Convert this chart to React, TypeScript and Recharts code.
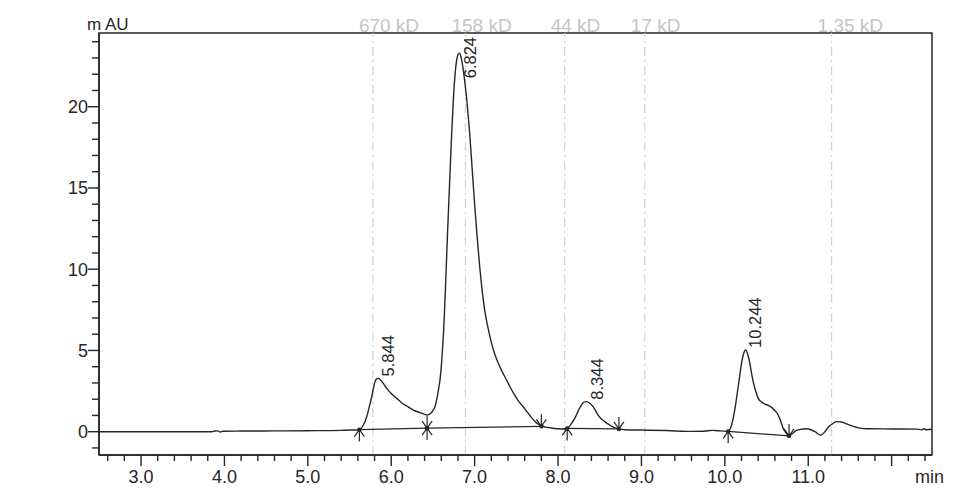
import React from 'react';
import { ComposedChart, Line, Scatter, XAxis, YAxis, ReferenceLine, ReferenceArea } from 'recharts';

// chromatogram trace (min / mAU)
const retentionTime = [
  2.5, 3.0, 3.5, 3.85, 3.88, 3.92, 3.95, 3.98, 4.2, 4.6, 5.0, 5.4, 5.5, 5.58,
  5.618, 5.66, 5.706, 5.74, 5.766, 5.79, 5.806, 5.825, 5.845, 5.87, 5.9, 5.946, 6.0, 6.066, 6.12, 6.186, 6.26, 6.345, 6.4, 6.43,
  6.47, 6.5, 6.525, 6.55, 6.57, 6.585, 6.6, 6.615, 6.63, 6.65, 6.675, 6.7, 6.725, 6.75, 6.775, 6.8, 6.817, 6.835, 6.86, 6.885,
  6.91, 6.94, 6.97, 7.0, 7.03, 7.06, 7.09, 7.12, 7.16, 7.2, 7.24, 7.285, 7.33, 7.38, 7.425, 7.48, 7.53, 7.585, 7.64, 7.68,
  7.725, 7.76, 7.8, 7.85, 7.9, 7.95, 8.05,
  8.11, 8.15, 8.2, 8.24, 8.28, 8.31, 8.344, 8.38, 8.42, 8.46, 8.5, 8.56, 8.62, 8.68, 8.73, 8.8,
  9.0, 9.3, 9.6, 9.75, 9.85, 9.95,
  10.04, 10.08, 10.1, 10.13, 10.16, 10.18, 10.2, 10.225, 10.25, 10.275, 10.3, 10.32, 10.34, 10.37, 10.4, 10.44, 10.48, 10.52,
  10.56, 10.6, 10.64, 10.67, 10.7, 10.74, 10.77, 10.8, 10.86, 10.92, 10.98, 11.03, 11.08, 11.15, 11.2, 11.24, 11.3, 11.34,
  11.4, 11.46, 11.54, 11.62, 11.7, 12.0, 12.3, 12.36, 12.38, 12.42, 12.48,
];
const absorbance = [
  0, 0, 0, 0, 0.04, 0.05, -0.02, 0.03, 0.04, 0.05, 0.06, 0.08, 0.1, 0.1,
  0.13, 0.35, 0.92, 1.6, 2.15, 2.75, 3.08, 3.25, 3.28, 3.2, 3.0, 2.67, 2.35, 2.05, 1.8, 1.58, 1.35, 1.17, 1.07, 1.03,
  1.12, 1.3, 1.55, 2.1, 2.7, 3.2, 4.0, 5.1, 6.4, 8.8, 12.2, 15.3, 18.4, 20.9, 22.5, 23.2, 23.3, 23.1, 22.4, 21.4,
  20.2, 18.4, 16.2, 14.0, 12.0, 10.2, 8.7, 7.5, 6.4, 5.5, 4.8, 4.2, 3.7, 3.2, 2.75, 2.25, 1.85, 1.52, 1.15, 0.88,
  0.62, 0.48, 0.38, 0.28, 0.25, 0.2, 0.17,
  0.2, 0.42, 0.82, 1.25, 1.64, 1.82, 1.85, 1.75, 1.54, 1.2, 0.89, 0.62, 0.41, 0.25, 0.17, 0.12,
  0.1, 0.07, 0.02, 0.03, 0.08, 0.05,
  0.02, 0.4, 0.82, 1.7, 2.77, 3.5, 4.2, 4.8, 5.03, 4.75, 4.2, 3.6, 3.08, 2.5, 2.05, 1.82, 1.7, 1.62,
  1.5, 1.3, 1.03, 0.65, 0.2, -0.12, -0.26, -0.15, 0.08, 0.15, 0.18, 0.12, 0.0, -0.22, 0.0, 0.27, 0.52, 0.62,
  0.6, 0.48, 0.33, 0.22, 0.18, 0.17, 0.16, 0.12, 0.18, 0.12, 0.15,
];

const peakTimes = [5.844, 6.824, 8.344, 10.244];
const peakHeights = [3.28, 23.3, 1.85, 5.03];

// integration start / end points
const startTimes = [5.618, 6.43, 8.11, 10.04];
const startLevels = [0.13, 0.22, 0.2, 0.02];
const endTimes = [6.43, 7.8, 8.73, 10.77];
const endLevels = [0.22, 0.33, 0.17, -0.26];

// calibration standards
const standardTimes = [5.78, 6.89, 8.08, 9.04, 11.28];
const standardLabels = ['670 kD', '158 kD', '44 kD', '17 kD', '1.35 kD'];

const xMajor = [3, 4, 5, 6, 7, 8, 9, 10, 11, 12];
const xMajorLabels = ['3.0', '4.0', '5.0', '6.0', '7.0', '8.0', '9.0', '10.0', '11.0', ''];
const yMajor = [0, 5, 10, 15, 20];
const yMajorLabels = ['0', '5', '10', '15', '20'];

const X_MIN = 2.496;
const X_MAX = 12.484;
const Y_MIN = -1.434;
const Y_MAX = 24.536;
const PLOT_TOP = 33;

const trace = retentionTime.map((t, i) => ({ t, v: absorbance[i] }));
const peaks = peakTimes.map((t, i) => ({ t, v: peakHeights[i], name: t.toFixed(3) }));
const starts = startTimes.map((t, i) => ({ t, v: startLevels[i] }));
const ends = endTimes.map((t, i) => ({ t, v: endLevels[i] }));
const baselines = startTimes.map((t, i) => [
  { t, v: startLevels[i] },
  { t: endTimes[i], v: endLevels[i] },
]);

const xTicks = Array.from({ length: 50 }, (_, i) => Math.round((2.6 + i * 0.2) * 10) / 10);
const yTicks = Array.from({ length: 26 }, (_, i) => i - 1);

const FONT = '"Liberation Sans", Arial, sans-serif';
const INK = '#262626';

const XTick = ({ x, y, payload }: any) => {
  const idx = xMajor.findIndex((m) => Math.abs(m - payload.value) < 1e-6);
  const major = idx >= 0;
  return (
    <g>
      <line x1={x} x2={x} y1={y} y2={y + (major ? 11 : 6)} stroke={INK} strokeWidth={1.4} />
      {major && xMajorLabels[idx] && (
        <text x={x} y={y + 15} dy="0.71em" textAnchor="middle" fontSize={18} fill={INK} fontFamily={FONT}>
          {xMajorLabels[idx]}
        </text>
      )}
    </g>
  );
};

const YTick = ({ x, y, payload }: any) => {
  const idx = yMajor.indexOf(payload.value);
  const major = idx >= 0;
  return (
    <g>
      <line x1={x - (major ? 11 : 7)} x2={x} y1={y} y2={y} stroke={INK} strokeWidth={1.4} />
      {major && (
        <text x={x - 11} y={y} dy="0.355em" textAnchor="end" fontSize={18} fill={INK} fontFamily={FONT}>
          {yMajorLabels[idx]}
        </text>
      )}
    </g>
  );
};

const StartMark = ({ cx, cy }: any) => (
  <g stroke={INK} strokeWidth={1.2} fill="none">
    <line x1={cx} y1={cy} x2={cx} y2={cy + 12} />
    <line x1={cx} y1={cy} x2={cx - 5} y2={cy + 7} />
    <line x1={cx} y1={cy} x2={cx + 5} y2={cy + 7} />
    <circle cx={cx} cy={cy} r={1.6} fill={INK} />
  </g>
);

const EndMark = ({ cx, cy }: any) => (
  <g stroke={INK} strokeWidth={1.2} fill="none">
    <line x1={cx} y1={cy} x2={cx} y2={cy - 12} />
    <line x1={cx} y1={cy} x2={cx - 5} y2={cy - 7} />
    <line x1={cx} y1={cy} x2={cx + 5} y2={cy - 7} />
    <circle cx={cx} cy={cy} r={1.6} fill={INK} />
  </g>
);

// retention time written upward beside the apex, pushed down if it would leave the plot
const PeakLabel = ({ cx, cy, payload }: any) => {
  const fontSize = 16.5;
  const len = payload.name.length * 0.5 * fontSize;
  const bx = cx + 16;
  const by = Math.max(cy - 2, PLOT_TOP + 4 + len);
  return (
    <text
      x={bx}
      y={by}
      transform={`rotate(-90 ${bx} ${by})`}
      fontSize={fontSize}
      fill={INK}
      fontFamily={FONT}
    >
      {payload.name}
    </text>
  );
};

const App: React.FC = () => {
  return (
    <div style={{ position: 'absolute', left: 0, top: 0, background: '#fff' }}>
      <ComposedChart width={974} height={489} margin={{ top: 33, right: 42, bottom: 0, left: 0 }}>
        <XAxis
          type="number"
          dataKey="t"
          domain={[X_MIN, X_MAX]}
          ticks={xTicks}
          interval={0}
          allowDataOverflow
          height={34}
          tickSize={0}
          tickMargin={0}
          tickLine={false}
          tick={<XTick />}
          axisLine={{ stroke: INK, strokeWidth: 1.5 }}
          label={(p: any) => (
            <text
              x={p.viewBox.x + p.viewBox.width + 12}
              y={p.viewBox.y + 15}
              dy="0.71em"
              textAnchor="end"
              fontSize={18}
              fill={INK}
              fontFamily={FONT}
            >
              min
            </text>
          )}
        />
        <YAxis
          type="number"
          dataKey="v"
          domain={[Y_MIN, Y_MAX]}
          ticks={yTicks}
          interval={0}
          allowDataOverflow
          width={99}
          tickSize={0}
          tickMargin={0}
          tickLine={false}
          tick={<YTick />}
          axisLine={{ stroke: INK, strokeWidth: 1.5 }}
          label={(p: any) => (
            <text
              x={p.viewBox.x + p.viewBox.width - 12}
              y={p.viewBox.y - 3}
              fontSize={17}
              fill={INK}
              fontFamily={FONT}
            >
              m AU
            </text>
          )}
        />
        <ReferenceArea x1={X_MIN} x2={X_MAX} y1={Y_MIN} y2={Y_MAX} fill="none" stroke={INK} strokeWidth={1.5} />
        {standardTimes.map((t, i) => (
          <ReferenceLine
            key={standardLabels[i]}
            x={t}
            stroke="#d2d2d2"
            strokeWidth={1.2}
            strokeDasharray="9 4 2 4"
            label={(p: any) => (
              <text x={p.viewBox.x - 14} y={p.viewBox.y - 1.5} fontSize={19} fill="#c4c4c4" fontFamily={FONT}>
                {standardLabels[i]}
              </text>
            )}
          />
        ))}
        {baselines.map((seg, i) => (
          <Line
            key={`base-${i}`}
            data={seg}
            dataKey="v"
            type="linear"
            stroke={INK}
            strokeWidth={1.2}
            dot={false}
            activeDot={false}
            isAnimationActive={false}
          />
        ))}
        <Line
          data={trace}
          dataKey="v"
          type="monotone"
          stroke={INK}
          strokeWidth={1.4}
          dot={false}
          activeDot={false}
          isAnimationActive={false}
        />
        <Scatter data={starts} dataKey="v" shape={<StartMark />} isAnimationActive={false} />
        <Scatter data={ends} dataKey="v" shape={<EndMark />} isAnimationActive={false} />
        <Scatter data={peaks} dataKey="v" shape={<PeakLabel />} isAnimationActive={false} />
      </ComposedChart>
    </div>
  );
};

export default App;
